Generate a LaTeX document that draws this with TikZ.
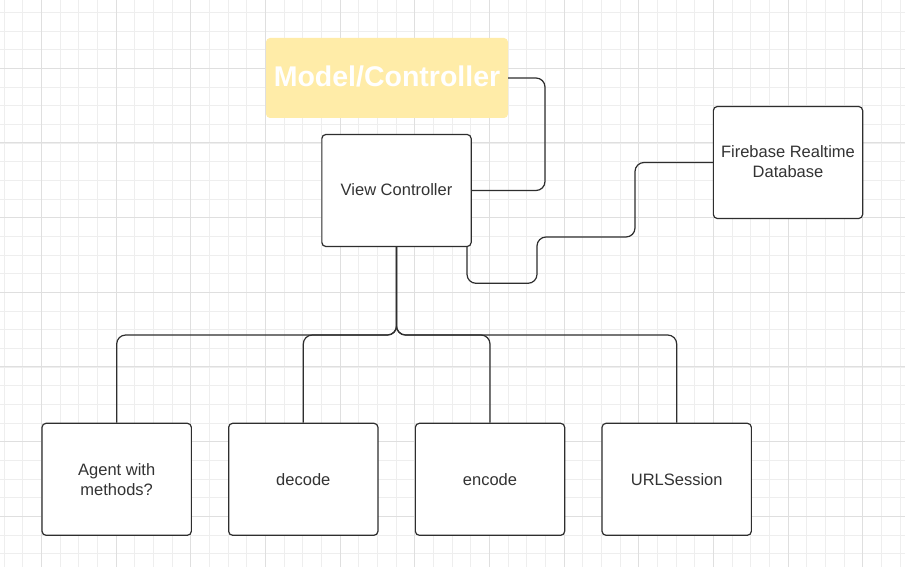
\documentclass[tikz,border=0pt]{standalone}
\usepackage{fontspec}
\setmainfont{Liberation Sans}
\definecolor{gridminor}{HTML}{EEEEEE}
\definecolor{gridmajor}{HTML}{DFDFDF}
\definecolor{linegray}{HTML}{2E2E2E}
\definecolor{mcyellow}{HTML}{FFECA8}
\definecolor{txtgray}{HTML}{333333}
\begin{document}
\begin{tikzpicture}[x=1pt,y=-1pt,
  box/.style={draw=linegray, line width=1.2pt, rounded corners=4pt, fill=white,
    minimum width=149.3pt, minimum height=112pt, inner sep=0pt, align=center,
    text=txtgray, font=\fontsize{16.5}{20}\selectfont},
  mcbox/.style={fill=mcyellow, rounded corners=4pt, minimum width=242pt, minimum height=80pt,
    inner sep=0pt, text=white, font=\fontsize{28.5}{32}\selectfont\bfseries},
  conn/.style={draw=linegray, line width=1.2pt, rounded corners=9pt}]
\useasboundingbox (0,0) rectangle (905,567);
\fill[white] (0,0) rectangle (905,567);
% grid
\foreach \i in {0,...,48} \draw[gridminor, line width=0.7pt] ({4+18.667*\i},0) -- ({4+18.667*\i},567);
\foreach \j in {0,...,29} \draw[gridminor, line width=0.7pt] (0,{12.3+18.667*\j}) -- (905,{12.3+18.667*\j});
\foreach \i in {0,...,11} \draw[gridmajor, line width=0.9pt] ({41.33+74.667*\i},0) -- ({41.33+74.667*\i},567);
\foreach \j in {0,...,6} \draw[gridmajor, line width=0.9pt] (0,{68+74.667*\j}) -- (905,{68+74.667*\j});
% nodes
\node[mcbox] (mc) at (387,78) {\raisebox{3pt}{Model/Controller}};
\node[box] (vc) at (396.5,190.5) {\raisebox{1pt}{View Controller}};
\node[box] (fb) at (788,162.5) {\raisebox{1pt}{Firebase Realtime}\\\raisebox{1pt}{Database}};
\node[box] (agent) at (116.7,479.3) {Agent with\\methods?};
\node[box] (decode) at (303.3,479.3) {decode};
\node[box] (encode) at (490,479.3) {encode};
\node[box] (url) at (676.7,479.3) {URLSession};
% helper coordinates
\coordinate (mcx) at (545,0);
\coordinate (f1) at (635,237);
\coordinate (f2) at (537,283.3);
\coordinate (f3) at (467,0);
\coordinate (bus) at (0,335);
% connectors
\draw[conn] (mc.east) -- (mc.east -| mcx) -- (vc.east -| mcx) -- (vc.east);
\draw[conn] (fb.west) -- (fb.west -| f1) -- (f1) -- (f1 -| f2) -- (f2) -- (f2 -| f3) -- (vc.south -| f3);
\foreach \c in {agent,decode,encode,url}
  \draw[conn] (vc.south) -- (vc.south |- bus) -| (\c.north);
\end{tikzpicture}
\end{document}
